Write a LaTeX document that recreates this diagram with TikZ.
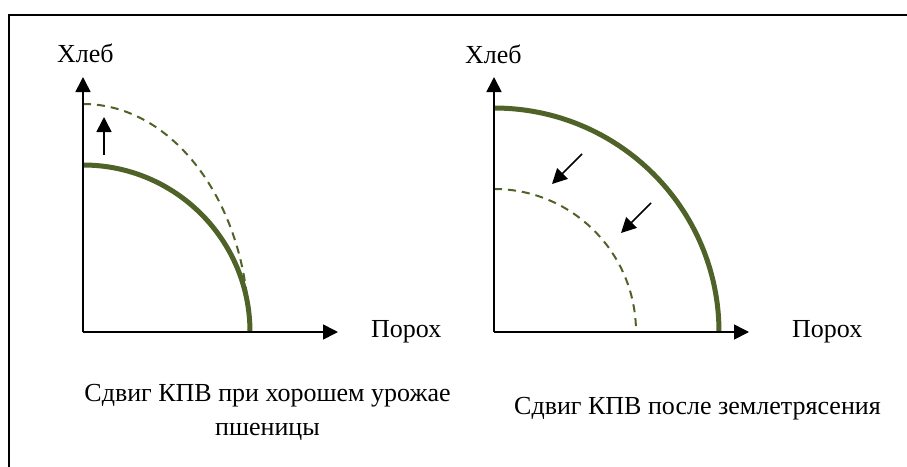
\documentclass[tikz,border=0pt]{standalone}
\usepackage{fontspec}
\setmainfont{Liberation Serif}
\usetikzlibrary{arrows.meta}
\definecolor{olive}{RGB}{79,98,40}
\begin{document}
\begin{tikzpicture}[x=1pt,y=-1pt,
  axisline/.style={line width=1.6pt,-{Triangle[length=15pt,width=15pt]}},
  shiftarrow/.style={line width=1.6pt,-{Triangle[length=15pt,width=15pt]}},
  ppfsolid/.style={draw=olive,line width=5pt},
  ppfdashed/.style={draw=olive,line width=2pt,dash pattern=on 8pt off 6pt},
  lbl/.style={font=\fontsize{26}{34}\selectfont,inner sep=0pt}]
\useasboundingbox (0,0) rectangle (907,466);
\clip (0,0) rectangle (907,466);
\draw[line width=2pt] (9.3,15) rectangle (950,520);
% left chart
\coordinate (O1) at (83,332);
\coordinate (Y1) at (83,77);
\coordinate (X1) at (338,332);
\draw[ppfdashed] (83,104) arc[start angle=90,end angle=0,x radius=166,y radius=-228];
\draw[ppfsolid] (83,165) arc[start angle=90,end angle=0,x radius=167,y radius=-167];
\draw[axisline] (O1) -- (Y1);
\draw[axisline] (O1) -- (X1);
\coordinate (a1s) at (104,155);
\coordinate (a1e) at (104,117);
\draw[shiftarrow] (a1s) -- (a1e);
\node[lbl,anchor=base west] (yl1) at (57,62) {Хлеб};
\node[lbl,anchor=base west] (xl1) at (371,337) {Порох};
\node[lbl,anchor=base,align=center] (cap1) at (267.5,435) {Сдвиг КПВ при хорошем урожае\\пшеницы};
% right chart
\coordinate (O2) at (494,332);
\coordinate (Y2) at (494,77);
\coordinate (X2) at (749,332);
\draw[ppfdashed] (494,189) arc[start angle=90,end angle=0,x radius=142,y radius=-143];
\draw[ppfsolid] (494,108) arc[start angle=90,end angle=0,x radius=225,y radius=-224];
\draw[axisline] (O2) -- (Y2);
\draw[axisline] (O2) -- (X2);
\coordinate (a2s) at (582,154);
\coordinate (a2e) at (552,184);
\coordinate (a3s) at (651,203);
\coordinate (a3e) at (621,233);
\draw[shiftarrow] (a2s) -- (a2e);
\draw[shiftarrow] (a3s) -- (a3e);
\node[lbl,anchor=base west] (yl2) at (465,63) {Хлеб};
\node[lbl,anchor=base west] (xl2) at (792,337) {Порох};
\node[lbl,anchor=base] (cap2) at (697.5,414) {Сдвиг КПВ после землетрясения};
\end{tikzpicture}
\end{document}
